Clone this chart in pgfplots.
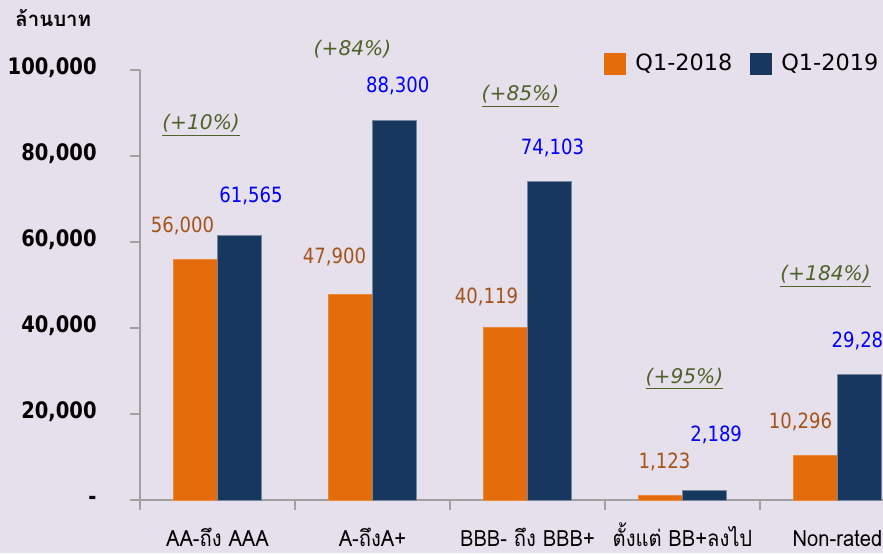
\documentclass[border=0pt]{standalone}
\usepackage{fontspec}
\usepackage{pgfplots}
\pgfplotsset{compat=1.18}
\setmainfont{DejaVu Sans}
\newfontfamily\tah[FakeStretch=0.86]{DejaVu Sans}
\newfontfamily\thai[Script=Thai]{Loma}
\newfontfamily\thain[Script=Thai, FakeStretch=0.9]{Loma}
\definecolor{bg}{HTML}{E6E0EC}
\definecolor{cOr}{HTML}{E46C0A}
\definecolor{cNv}{HTML}{17375E}
\definecolor{lOr}{HTML}{A5531A}
\definecolor{lBl}{HTML}{0000FF}
\definecolor{lPc}{HTML}{4F6228}
\definecolor{axg}{HTML}{A0A0A0}
\newcommand{\vl}{\tah\fontsize{10.5pt}{12pt}\selectfont}
\newcommand{\pc}{\itshape\fontsize{10.1pt}{12pt}\selectfont\color{lPc}}
\begin{document}
\begin{tikzpicture}
\fill[bg] (0,0) rectangle (441.5pt,276.5pt);
\begin{axis}[
  at={(70pt,26.5pt)}, anchor=south west,
  scale only axis, width=387.5pt, height=215pt,
  xmin=-0.5, xmax=4.5, ymin=0, ymax=100000,
  axis x line=bottom, axis y line=left,
  axis line style={-, draw=axg, line width=0.9pt},
  clip=false,
  tick align=outside,
  major tick length=5pt, minor tick length=5pt,
  ytick={0,20000,40000,60000,80000,100000},
  yticklabels={{-\hspace{8.5pt}},{20,000},{40,000},{60,000},{80,000},{100,000}},
  yticklabel style={font=\tah\bfseries\fontsize{11.35pt}{13pt}\selectfont, anchor=base east, inner sep=0pt, xshift=-16.5pt, yshift=-2.1pt},
  major y tick style={draw=axg, line width=0.9pt},
  xtick={0,1,2,3,4},
  xticklabels={{AA-ถึง AAA},{A-ถึงA+},{BBB- ถึง BBB+},{ตั้งแต่ BB+ลงไป},{Non-rated}},
  xticklabel style={font=\thain\fontsize{11.2pt}{13pt}\selectfont, anchor=base, inner sep=0pt, yshift=-18pt},
  minor xtick={-0.5,0.5,1.5,2.5,3.5,4.5},
  major x tick style={draw=none},
  minor x tick style={draw=axg, line width=0.9pt},
  scaled y ticks=false,
  ylabel={ล้านบาท},
  every axis y label/.style={at={(axis description cs:-0.1613,1.1)}, anchor=base west, inner sep=0pt, font=\thai\bfseries\fontsize{10.2pt}{12pt}\selectfont},
  legend columns=2,
  legend style={at={(0.5987,1.014)}, anchor=west, draw=none, fill=none, inner sep=0pt,
    font=\fontsize{11.2pt}{13pt}\selectfont,
    /tikz/every even column/.append style={column sep=7pt}},
  legend image code/.code={\fill[#1, draw=none] (0pt,-5.5pt) rectangle (11pt,5.5pt); \path[draw=none, fill=none] (0pt,0pt) -- (13.5pt,0pt);},
]
\addplot[ybar, bar width=0.285, bar shift=-0.1425, fill=cOr, draw=cOr!80!white, line width=0.4pt]
  coordinates {(0,56000) (1,47900) (2,40119) (3,1123) (4,10296)};
\addlegendentry{Q1-2018}
\addplot[ybar, bar width=0.285, bar shift=0.1425, fill=cNv, draw=cNv!60!white, line width=0.4pt]
  coordinates {(0,61565) (1,88300) (2,74103) (3,2189) (4,29282)};
\addlegendentry{Q1-2019}
% value labels
\node[lOr, font=\vl] at (axis cs:-0.226,63837) {56,000};
\node[lBl, font=\vl] at (axis cs:0.216,70698) {61,565};
\node[lOr, font=\vl] at (axis cs:0.755,56628) {47,900};
\node[lBl, font=\vl] at (axis cs:1.163,96396) {88,300};
\node[lOr, font=\vl] at (axis cs:1.735,47210) {40,119};
\node[lBl, font=\vl] at (axis cs:2.161,81860) {74,103};
\node[lOr, font=\vl] at (axis cs:2.884,8953) {1,123};
\node[lBl, font=\vl] at (axis cs:3.217,15046) {2,189};
\node[lOr, font=\vl] at (axis cs:3.761,18140) {10,296};
\node[lBl, font=\vl, anchor=west, inner sep=0pt] at (axis cs:3.959,37093) {29,282};
% change labels
\node[anchor=base, inner sep=0pt, font=\pc] at (axis cs:-0.106,86047) {\underline{(+10\%)}};
\node[anchor=base, inner sep=0pt, font=\pc] at (axis cs:0.871,103257) {(+84\%)};
\node[anchor=base, inner sep=0pt, font=\pc] at (axis cs:1.955,92800) {\underline{(+85\%)}};
\node[anchor=base, inner sep=0pt, font=\pc] at (axis cs:3.013,27210) {\underline{(+95\%)}};
\node[anchor=base, inner sep=0pt, font=\pc] at (axis cs:3.923,51047) {\underline{(+184\%)}};
\end{axis}
\pgfresetboundingbox
\path[use as bounding box] (0,0) rectangle (441.5pt,276.5pt);
\end{tikzpicture}
\end{document}
